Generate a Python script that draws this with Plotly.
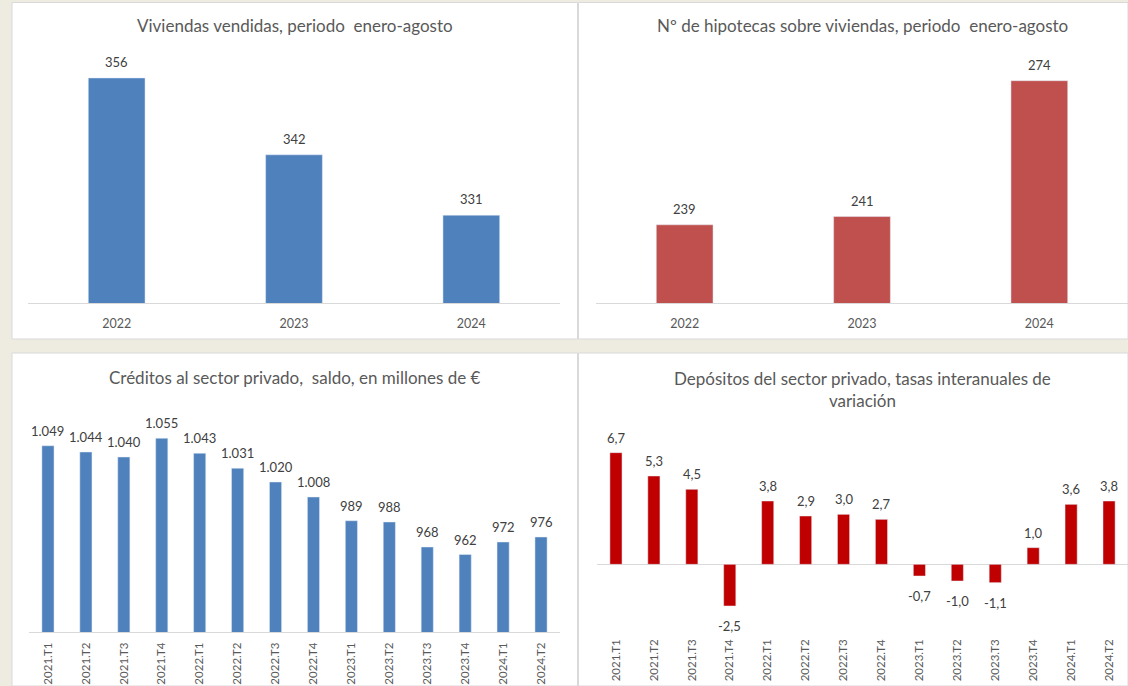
import plotly.graph_objects as go

# ---------------- data ----------------
years = ["2022", "2023", "2024"]
viviendas_vendidas = [356, 342, 331]
hipotecas = [239, 241, 274]

quarters = ["2021.T1", "2021.T2", "2021.T3", "2021.T4",
            "2022.T1", "2022.T2", "2022.T3", "2022.T4",
            "2023.T1", "2023.T2", "2023.T3", "2023.T4",
            "2024.T1", "2024.T2"]
creditos = [1049, 1044, 1040, 1055, 1043, 1031, 1020, 1008,
            989, 988, 968, 962, 972, 976]
depositos = [6.7, 5.3, 4.5, -2.5, 3.8, 2.9, 3.0, 2.7,
             -0.7, -1.0, -1.1, 1.0, 3.6, 3.8]

titles = ["Viviendas vendidas, periodo  enero-agosto",
          "Nº de hipotecas sobre viviendas, periodo  enero-agosto",
          "Créditos al sector privado,  saldo, en millones de €",
          "Depósitos del sector privado, tasas interanuales de<br>variación"]

# ---------------- geometry helpers ----------------
W, H = 1128, 686
FONT = "Lato"
BG = "#EEECE1"
AXIS = "#D9D9D9"
TITLE_C = "#595959"
LABEL_C = "#404040"
TICK_C = "#595959"


def px(x):
    return x / W


def py(y):
    return 1 - y / H


def fmt_int(v):
    return f"{v:,}".replace(",", ".")


def fmt_dec(v):
    return f"{v:.1f}".replace(".", ",")


fig = go.Figure()

fig.add_trace(go.Bar(x=years, y=viviendas_vendidas, marker_color="#4F81BD",
                     xaxis="x", yaxis="y", hoverinfo="x+y"))
fig.add_trace(go.Bar(x=years, y=hipotecas, marker_color="#C0504D",
                     xaxis="x2", yaxis="y2", hoverinfo="x+y"))
fig.add_trace(go.Bar(x=quarters, y=creditos, marker_color="#4F81BD",
                     xaxis="x3", yaxis="y3", hoverinfo="x+y"))
fig.add_trace(go.Bar(x=quarters, y=depositos, marker_color="#C00000",
                     xaxis="x4", yaxis="y4", hoverinfo="x+y"))

tick_font = dict(family=FONT, size=12.5, color=TICK_C)
rot_font = dict(family=FONT, size=11.5, color=TICK_C)
xcommon = dict(type="category", showgrid=False, zeroline=False, ticks="",
               fixedrange=True)
ycommon = dict(showgrid=False, showticklabels=False, showline=False,
               ticks="", fixedrange=True)

r3 = [-0.5, len(years) - 0.5]
r14 = [-0.5, len(quarters) - 0.5]

layout = dict(
    width=W, height=H,
    margin=dict(l=0, r=0, t=0, b=0),
    paper_bgcolor=BG, plot_bgcolor="rgba(0,0,0,0)",
    showlegend=False, bargap=0.68,
    font=dict(family=FONT, color=LABEL_C),
    xaxis=dict(domain=[px(28), px(560)], anchor="y", showline=True,
               linecolor=AXIS, linewidth=1, range=r3, ticklabelstandoff=9,
               tickfont=tick_font, **xcommon),
    yaxis=dict(domain=[py(303), py(56)], anchor="x", range=[315, 360],
               zeroline=False, **ycommon),
    xaxis2=dict(domain=[px(596), px(1128)], anchor="y2", showline=True,
                linecolor=AXIS, linewidth=1, range=r3, ticklabelstandoff=9,
                tickfont=tick_font, **xcommon),
    yaxis2=dict(domain=[py(303), py(56)], anchor="x2", range=[220, 280],
                zeroline=False, **ycommon),
    xaxis3=dict(domain=[px(29), px(560)], anchor="y3", showline=True,
                linecolor=AXIS, linewidth=1, tickangle=-90, range=r14,
                ticklabelstandoff=5, tickfont=rot_font, **xcommon),
    yaxis3=dict(domain=[py(632), py(407)], anchor="x3", range=[900, 1080],
                zeroline=False, **ycommon),
    xaxis4=dict(domain=[px(597), px(1128)], anchor="y4", showline=False,
                tickangle=-90, range=r14, ticklabelstandoff=5,
                tickfont=rot_font, **xcommon),
    yaxis4=dict(domain=[py(631), py(431)], anchor="x4", range=[-4, 8],
                zeroline=True, zerolinecolor=AXIS, zerolinewidth=1,
                **ycommon),
)

# panel backgrounds (kept inside the paper)
panels = [(12, 577.5, 2.5, 339), (578.5, 1128, 2.5, 339),
          (12, 577.5, 353, 686), (578.5, 1128, 353, 686)]
shapes = []
for x0, x1, y0, y1 in panels:
    shapes.append(dict(type="rect", xref="paper", yref="paper",
                       x0=px(x0), x1=px(x1), y0=py(y1), y1=py(y0),
                       fillcolor="white", line=dict(color=AXIS, width=1),
                       layer="below"))
layout["shapes"] = shapes

annotations = []
# titles
title_pos = [(294.5, 26), (862, 26), (294.5, 377), (862, 389)]
for t, (cx, cy) in zip(titles, title_pos):
    annotations.append(dict(text=t, xref="paper", yref="paper",
                            x=px(cx), y=py(cy), xanchor="center",
                            yanchor="middle", showarrow=False,
                            font=dict(family=FONT, size=17, color=TITLE_C)))

lab_font = dict(family=FONT, size=13, color=LABEL_C)


def add_labels(ys, xr, yr, fmt, up=16, down=19):
    # annotations placed by category index on the category axis
    for i, yv in enumerate(ys):
        annotations.append(dict(text=fmt(yv), x=i, y=yv, xref=xr, yref=yr,
                                showarrow=False, xanchor="center",
                                yanchor="middle",
                                yshift=up if yv >= 0 else -down,
                                font=lab_font))


add_labels(viviendas_vendidas, "x", "y", fmt_int)
add_labels(hipotecas, "x2", "y2", fmt_int)
add_labels(creditos, "x3", "y3", fmt_int, up=15)
add_labels(depositos, "x4", "y4", fmt_dec, up=15, down=20)

layout["annotations"] = annotations
fig.update_layout(**layout)

fig.write_html(
    "out.html",
    config={"displayModeBar": False},
    post_script=("document.body.style.margin='0';"
                 "document.body.style.overflow='hidden';"
                 "document.body.style.background='#EEECE1';"),
)
